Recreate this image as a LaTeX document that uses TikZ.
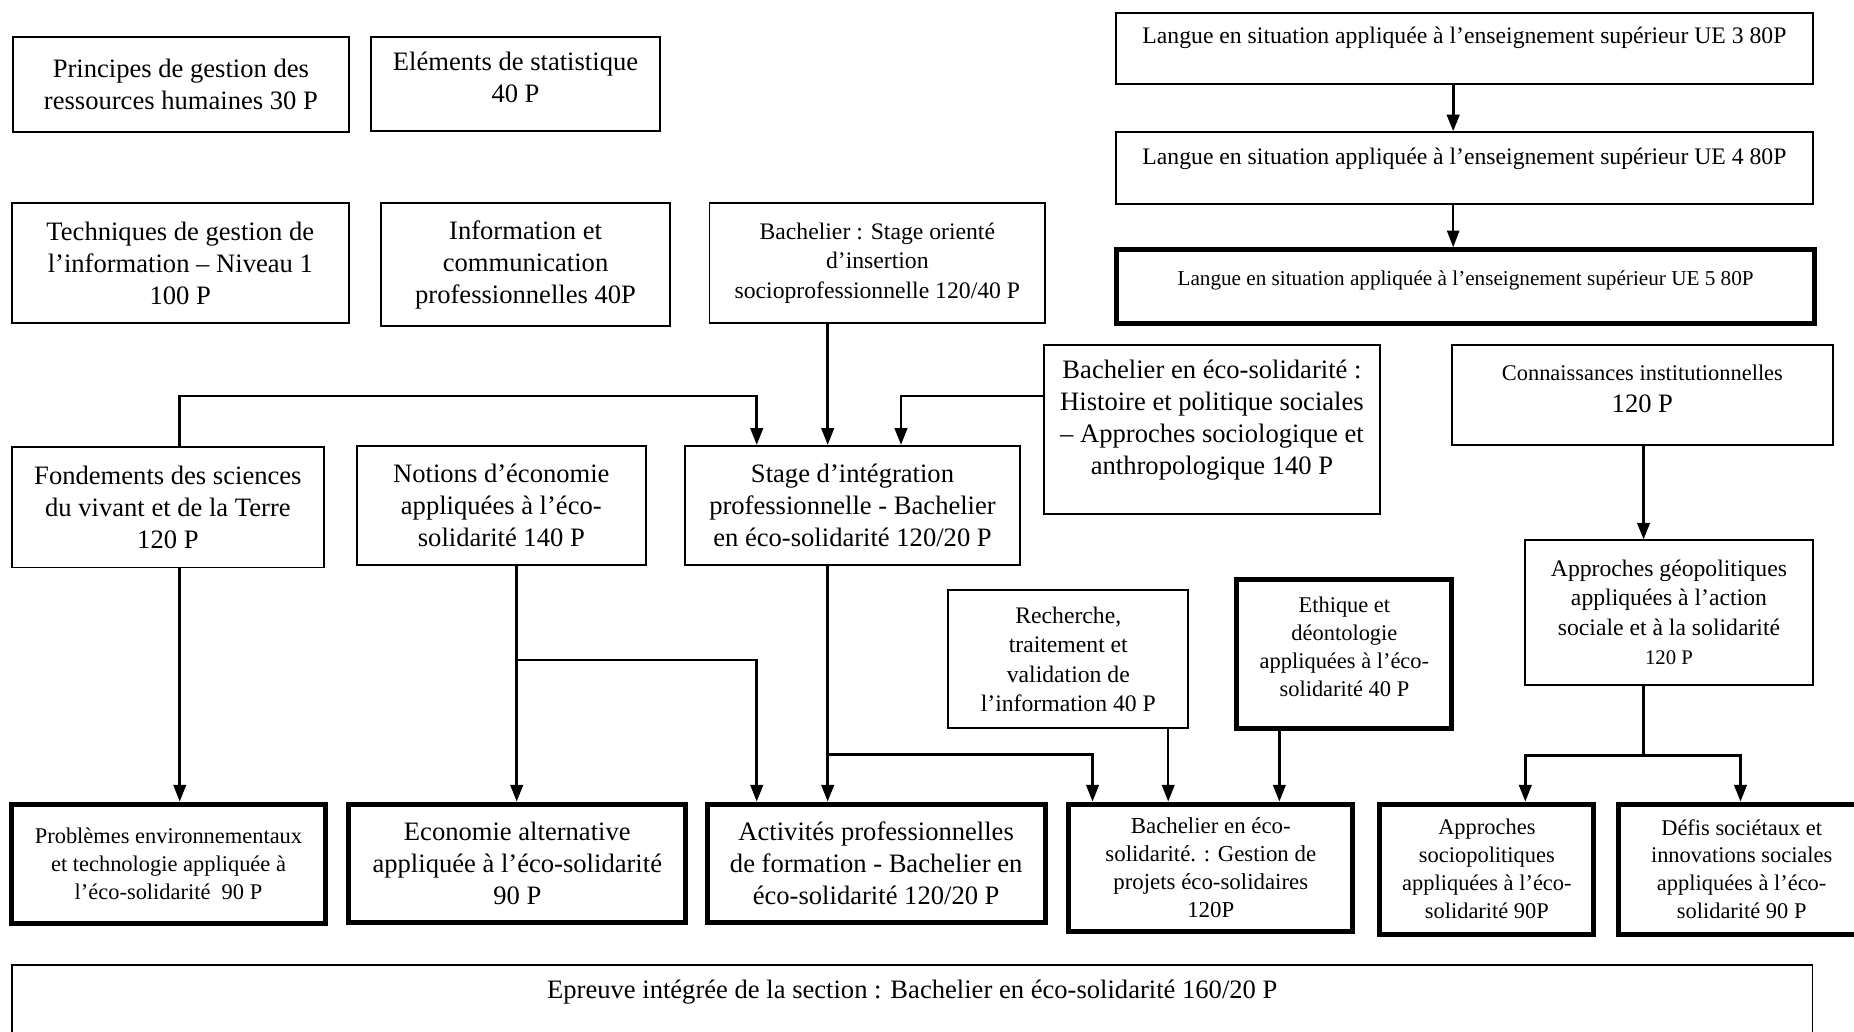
\documentclass[tikz,border=0pt]{standalone}
\usepackage{fontspec}
\setmainfont{Liberation Serif}
\usetikzlibrary{arrows.meta}

\begin{document}
\begin{tikzpicture}[x=0.02cm, y=-0.02cm,
    boite/.style={draw, line width=0.9pt, align=center, inner sep=2pt},
    epaisse/.style={boite, line width=2.4pt},
    grand/.style={font=\fontsize{12.8}{15.4}\selectfont},
    moyen/.style={font=\fontsize{11.4}{14.2}\selectfont},
    petit/.style={font=\fontsize{10.8}{13.4}\selectfont},
    fleche/.style={line width=1.2pt, -{Triangle[length=8pt,width=6pt]}}]
            \useasboundingbox (0,0) rectangle (1568,872);

            % Colonne de gauche, en haut
            \node[boite, grand, minimum width=5.68cm, minimum height=1.62cm] (prin) at (153,71.5) {Principes de gestion des\\ressources humaines 30 P};
            \node[boite, grand, minimum width=4.88cm, minimum height=1.60cm, text depth=6pt] (stat) at (436,71) {Eléments de statistique\\40 P};
            \node[boite, grand, minimum width=5.70cm, minimum height=2.02cm] (tgi) at (152.5,222.5) {Techniques de gestion de\\l’information – Niveau 1\\100 P};
            \node[boite, grand, minimum width=4.90cm, minimum height=2.08cm] (icp) at (444.5,224) {Information et\\communication\\professionnelles 40P};
            \node[boite, moyen, minimum width=5.68cm, minimum height=2.02cm] (sto) at (742,222.5) {Bachelier : Stage orienté\\d’insertion\\socioprofessionnelle 120/40 P};

            % Langues
            \node[boite, moyen, anchor=north, minimum width=11.78cm, inner ysep=0pt, text height=14.8pt, text depth=19.3pt] (ue3) at (1238.5,10) {Langue en situation appliquée à l’enseignement supérieur UE 3 80P};
            \node[boite, moyen, anchor=north, minimum width=11.78cm, inner ysep=0pt, text height=15.4pt, text depth=19.3pt] (ue4) at (1238.5,111) {Langue en situation appliquée à l’enseignement supérieur UE 4 80P};
            \node[epaisse, font=\fontsize{10.2}{12.5}\selectfont, anchor=north, minimum width=11.82cm, inner ysep=0pt, text height=17.4pt, text depth=18.4pt] (ue5) at (1239.5,209) {Langue en situation appliquée à l’enseignement supérieur UE 5 80P};

            % Rangee du milieu
            \node[boite, grand, minimum width=5.68cm, minimum height=2.86cm, text depth=12.5pt] (hps) at (1025,363.5) {Bachelier en éco-solidarité :\\Histoire et politique sociales\\– Approches sociologique et\\anthropologique 140 P};
            \node[boite, grand, minimum width=6.44cm, minimum height=1.68cm, text depth=6.2pt] (coin) at (1389,334) {{\fontsize{10.8}{13.4}\selectfont Connaissances institutionnelles}\\120 P};
            \node[boite, grand, minimum width=5.28cm, minimum height=2.04cm] (fsv) at (142,429) {Fondements des sciences\\du vivant et de la Terre\\120 P};
            \node[boite, grand, minimum width=4.88cm, minimum height=2.02cm] (neco) at (424,427.5) {Notions d’économie\\appliquées à l’éco-\\solidarité 140 P};
            \node[boite, grand, minimum width=5.68cm, minimum height=2.02cm] (sip) at (721,427.5) {Stage d’intégration\\professionnelle - Bachelier\\en éco-solidarité 120/20 P};
            \node[boite, moyen, minimum width=4.86cm, minimum height=2.44cm] (agp) at (1411.5,518) {Approches géopolitiques\\appliquées à l’action\\sociale et à la solidarité\\{\fontsize{10}{12}\selectfont 120 P}};
            \node[boite, moyen, minimum width=4.06cm, minimum height=2.34cm] (rtv) at (903.5,557.5) {Recherche,\\traitement et\\validation de\\l’information 40 P};
            \node[epaisse, petit, minimum width=3.64cm, minimum height=2.52cm, text depth=7pt] (eth) at (1137,553) {Ethique et\\déontologie\\appliquées à l’éco-\\solidarité 40 P};

            % Rangee du bas
            \node[epaisse, petit, minimum width=5.30cm, minimum height=2.02cm] (pbe) at (142.5,730.5) {Problèmes environnementaux\\et technologie appliquée à\\l’éco-solidarité\ \ 90 P};
            \node[epaisse, grand, minimum width=5.70cm, minimum height=2.00cm] (eca) at (437.5,730) {Economie alternative\\appliquée à l’éco-solidarité\\90 P};
            \node[epaisse, grand, minimum width=5.72cm, minimum height=2.00cm] (apf) at (741,730) {Activités professionnelles\\de formation - Bachelier en\\éco-solidarité 120/20 P};
            \node[epaisse, font=\fontsize{11}{13.5}\selectfont, minimum width=4.80cm, minimum height=2.16cm] (gpe) at (1024,734) {Bachelier en éco-\\solidarité. : Gestion de\\projets éco-solidaires\\120P};
            \node[epaisse, petit, minimum width=3.62cm, minimum height=2.20cm] (asp) at (1257.5,735) {Approches\\sociopolitiques\\appliquées à l’éco-\\solidarité 90P};
            \node[epaisse, petit, minimum width=4.16cm, minimum height=2.20cm] (dsi) at (1473,735) {Défis sociétaux et\\innovations sociales\\appliquées à l’éco-\\solidarité 90 P};

            % Epreuve integree
            \node[boite, grand, anchor=north, minimum width=30.46cm, inner ysep=0pt, text height=16.3pt, text depth=29.2pt] (epr) at (771.5,815) {Epreuve intégrée de la section : Bachelier en éco-solidarité 160/20 P};

            % Points de passage des fleches
            \coordinate (b1) at (152,335);
            \coordinate (b2) at (640,335);
            \coordinate (b3) at (762,335);
            \coordinate (b4) at (437,558);
            \coordinate (b5) at (640,558);
            \coordinate (b6) at (700,638);
            \coordinate (b7) at (924,638);
            \coordinate (b8) at (1390,639);
            \coordinate (b9) at (1290,639);
            \coordinate (b10) at (1472,639);
            \coordinate (b11) at (988,638);
            \coordinate (b12) at (1082,638);
            \coordinate (b13) at (1229,100);

            % Vers le stage d'integration
            \draw[fleche] (fsv.north -| b1) -- (b1) -- (b2) -- (sip.north -| b2);
            \draw[fleche] (sto.south -| b6) -- (sip.north -| b6);
            \draw[fleche] (hps.west |- b3) -- (b3) -- (sip.north -| b3);

            % Langues
            \draw[fleche, line width=1.5pt] (ue3.south -| b13) -- (ue4.north -| b13);
            \draw[fleche, line width=0.7pt] (ue4.south -| b13) -- (ue5.north -| b13);

            % Vers la rangee du bas
            \draw[fleche] (fsv.south -| b1) -- (pbe.north -| b1);
            \draw[fleche] (neco.south -| b4) -- (eca.north -| b4);
            \draw[fleche] (b4) -- (b5) -- (apf.north -| b5);
            \draw[fleche] (sip.south -| b6) -- (apf.north -| b6);
            \draw[fleche] (b6) -- (b7) -- (gpe.north -| b7);
            \draw[fleche] (rtv.south -| b11) -- (gpe.north -| b11);
            \draw[fleche] (eth.south -| b12) -- (gpe.north -| b12);
            \draw[fleche] (coin.south -| b8) -- (agp.north -| b8);
            \draw[line width=1.2pt] (agp.south -| b8) -- (b8);
            \draw[fleche] (b8) -- (b9) -- (asp.north -| b9);
            \draw[fleche] (b8) -- (b10) -- (dsi.north -| b10);

            \end{tikzpicture}
\end{document}
